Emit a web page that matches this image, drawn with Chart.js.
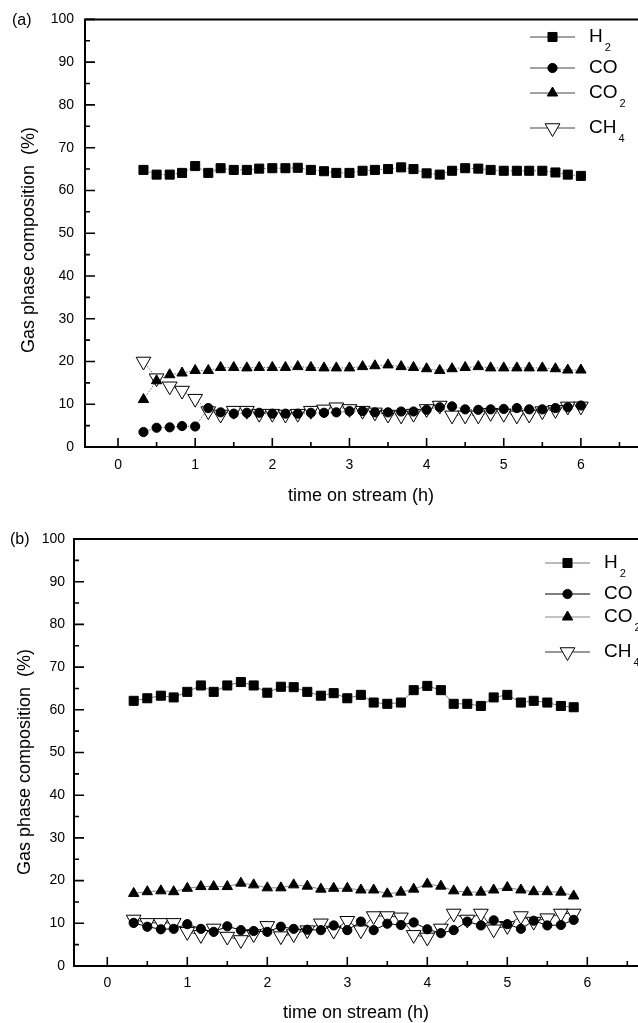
<!DOCTYPE html>
<html>
<head>
<meta charset="utf-8">
<script src="https://cdn.jsdelivr.net/npm/chart.js@4.4.1/dist/chart.umd.min.js"></script>
<style>
html, body { margin: 0; padding: 0; background: #fff; overflow: hidden; width: 638px; height: 1023px; }
canvas { position: absolute; left: 0; }
#chartA { top: 0; }
#chartB { top: 510px; }
</style>
</head>
<body>
<canvas id="chartA" width="720" height="510"></canvas>
<canvas id="chartB" width="720" height="513"></canvas>
<script>
// ---- data ----
const xTicks = [0, 1, 2, 3, 4, 5, 6, 7];
const yTicks = [0, 10, 20, 30, 40, 50, 60, 70, 80, 90, 100];

// panel (a)
const timeA = [0.33, 0.5, 0.67, 0.83, 1.0, 1.17, 1.33, 1.5, 1.67, 1.83, 2.0, 2.17, 2.33, 2.5, 2.67, 2.83, 3.0,
               3.17, 3.33, 3.5, 3.67, 3.83, 4.0, 4.17, 4.33, 4.5, 4.67, 4.83, 5.0, 5.17, 5.33, 5.5, 5.67, 5.83, 6.0];
const h2A  = [64.8, 63.7, 63.7, 64.1, 65.7, 64.1, 65.2, 64.8, 64.8, 65.1, 65.2, 65.2, 65.3, 64.8, 64.5, 64.1, 64.1,
              64.6, 64.8, 65.0, 65.4, 65.0, 64.0, 63.7, 64.6, 65.2, 65.1, 64.8, 64.6, 64.6, 64.6, 64.6, 64.2, 63.7, 63.4];
const coA  = [3.5, 4.5, 4.6, 4.9, 4.8, 9.1, 8.1, 7.8, 8.0, 8.0, 7.8, 7.8, 7.8, 8.0, 8.0, 8.1, 8.4,
              8.4, 8.1, 8.1, 8.3, 8.3, 8.7, 9.3, 9.5, 8.8, 8.7, 8.8, 8.9, 9.1, 8.8, 8.8, 9.1, 9.3, 9.7];
const co2A = [11.1, 15.5, 16.9, 17.3, 17.9, 17.9, 18.6, 18.6, 18.5, 18.6, 18.6, 18.6, 18.8, 18.6, 18.5, 18.5, 18.5,
              18.8, 19.0, 19.2, 18.8, 18.6, 18.3, 17.9, 18.3, 18.6, 18.8, 18.5, 18.5, 18.5, 18.5, 18.5, 18.3, 18.0, 18.0];
const ch4A = [20.0, 16.1, 14.2, 13.2, 11.3, 8.4, 7.6, 8.5, 8.5, 7.8, 7.8, 7.6, 7.8, 8.5, 8.8, 9.3, 8.9,
              8.5, 8.1, 7.6, 7.4, 7.8, 8.9, 9.7, 7.4, 7.4, 7.4, 8.0, 7.8, 7.4, 7.6, 8.4, 8.7, 9.5, 9.5];

// panel (b)
const timeB = [0.33, 0.5, 0.67, 0.83, 1.0, 1.17, 1.33, 1.5, 1.67, 1.83, 2.0, 2.17, 2.33, 2.5, 2.67, 2.83, 3.0,
               3.17, 3.33, 3.5, 3.67, 3.83, 4.0, 4.17, 4.33, 4.5, 4.67, 4.83, 5.0, 5.17, 5.33, 5.5, 5.67, 5.83];
const h2B  = [62.1, 62.7, 63.3, 62.9, 64.2, 65.7, 64.2, 65.7, 66.5, 65.7, 64.0, 65.4, 65.3, 64.2, 63.3, 63.9, 62.7,
              63.5, 61.7, 61.4, 61.7, 64.6, 65.6, 64.6, 61.4, 61.4, 60.9, 62.9, 63.5, 61.7, 62.1, 61.7, 60.9, 60.6];
const coB  = [10.1, 9.2, 8.6, 8.7, 9.8, 8.7, 8.0, 9.3, 8.4, 8.2, 8.0, 9.2, 8.7, 8.5, 8.4, 9.5, 8.4,
              10.4, 8.4, 9.9, 9.6, 10.2, 8.6, 7.7, 8.4, 10.4, 9.5, 10.7, 9.8, 8.7, 10.6, 9.5, 9.6, 10.8];
const co2B = [17.0, 17.4, 17.6, 17.4, 18.2, 18.6, 18.6, 18.6, 19.4, 19.0, 18.3, 18.3, 19.0, 18.7, 18.0, 18.2, 18.2,
              17.8, 17.8, 16.9, 17.3, 18.0, 19.2, 18.7, 17.6, 17.3, 17.3, 17.8, 18.4, 17.8, 17.4, 17.4, 17.3, 16.4];
const ch4B = [10.9, 10.1, 10.1, 10.1, 8.0, 7.3, 8.8, 6.9, 6.1, 7.5, 9.4, 7.0, 7.5, 8.4, 10.0, 8.3, 10.6,
              8.4, 11.7, 11.7, 11.4, 7.3, 6.7, 8.8, 12.3, 10.9, 12.3, 8.6, 9.4, 11.7, 10.4, 11.2, 12.3, 12.3];

const FONT = "'Liberation Sans', Arial, Helvetica, sans-serif";

// marker look for each gas (same in both panels)
const markers = [
  { name: 'H',  sub: '2', pointStyle: 'rect',     radius: 6.4, rotation: 0,   fill: '#000' },
  { name: 'CO', sub: '',  pointStyle: 'circle',   radius: 4.6, rotation: 0,   fill: '#000' },
  { name: 'CO', sub: '2', pointStyle: 'triangle', radius: 6,   rotation: 0,   fill: '#000' },
  { name: 'CH', sub: '4', pointStyle: 'triangle', radius: 8.5, rotation: 180, fill: '#fff' }
];

// draws axes box, inward ticks, titles, panel tag and the legend
const framePlugin = {
  id: 'frame',
  afterDraw(chart, args, o) {
    const { ctx, chartArea: a, scales: { x, y } } = chart;
    ctx.save();
    ctx.strokeStyle = '#000';
    ctx.lineWidth = 2;
    ctx.beginPath();
    ctx.moveTo(a.right, a.top);
    ctx.lineTo(a.left, a.top);
    ctx.lineTo(a.left, a.bottom);
    ctx.lineTo(a.right, a.bottom);
    ctx.stroke();

    ctx.lineWidth = 1.6;
    ctx.beginPath();
    yTicks.forEach((v, i) => {
      const py = y.getPixelForValue(v);
      ctx.moveTo(a.left, py); ctx.lineTo(a.left + 10, py);
      if (i < yTicks.length - 1) {
        const pm = y.getPixelForValue((v + yTicks[i + 1]) / 2);
        ctx.moveTo(a.left, pm); ctx.lineTo(a.left + 5, pm);
      }
    });
    xTicks.forEach((v, i) => {
      const px = x.getPixelForValue(v);
      ctx.moveTo(px, a.bottom); ctx.lineTo(px, a.bottom - 9);
      if (i < xTicks.length - 1) {
        const pm = x.getPixelForValue((v + xTicks[i + 1]) / 2);
        ctx.moveTo(pm, a.bottom); ctx.lineTo(pm, a.bottom - 5);
      }
    });
    ctx.stroke();

    ctx.fillStyle = '#000';
    ctx.textBaseline = 'middle';

    // panel tag
    ctx.font = '16px ' + FONT;
    ctx.textAlign = 'left';
    ctx.fillText(o.tag, o.tagX, o.tagY);

    // axis titles
    ctx.font = '18px ' + FONT;
    ctx.textAlign = 'center';
    ctx.fillText('time on stream (h)', o.xTitleX, o.xTitleY);
    ctx.save();
    ctx.translate(o.yTitleX, o.yTitleY);
    ctx.rotate(-Math.PI / 2);
    ctx.fillText('Gas phase composition  (%)', 0, 0);
    ctx.restore();

    // legend: line - marker - line, then name with subscript
    ctx.textAlign = 'left';
    markers.forEach((m, i) => {
      const ly = o.legendY[i];
      ctx.strokeStyle = o.lineColors[i];
      ctx.lineWidth = 1;
      ctx.beginPath();
      ctx.moveTo(o.legendX, ly); ctx.lineTo(o.legendX + 45, ly);
      ctx.stroke();
      ctx.fillStyle = m.fill;
      ctx.strokeStyle = '#000';
      Chart.helpers.drawPoint(ctx, { pointStyle: m.pointStyle, radius: m.radius, rotation: m.rotation, borderWidth: 1 },
        o.legendX + 22.5, ly);
      ctx.fillStyle = '#000';
      ctx.font = '19px ' + FONT;
      const tx = o.legendX + 59;
      ctx.fillText(m.name, tx, ly);
      if (m.sub) {
        const w = ctx.measureText(m.name).width;
        ctx.font = '11px ' + FONT;
        ctx.fillText(m.sub, tx + w + 2, ly + 11);
      }
    });
    ctx.restore();
  }
};

function makeChart(id, cfg) {
  const series = [cfg.h2, cfg.co, cfg.co2, cfg.ch4];
  return new Chart(document.getElementById(id), {
    type: 'line',
    data: {
      datasets: series.map((vals, i) => ({
        label: markers[i].name + markers[i].sub,
        data: cfg.time.map((t, k) => ({ x: t, y: vals[k] })),
        borderColor: cfg.lineColors[i],
        borderWidth: cfg.lineWidth,
        borderDash: cfg.dash,
        tension: 0,
        fill: false,
        pointStyle: markers[i].pointStyle,
        pointRadius: markers[i].radius,
        pointRotation: markers[i].rotation,
        pointBackgroundColor: markers[i].fill,
        pointBorderColor: '#000',
        pointBorderWidth: 1,
        clip: false
      }))
    },
    options: {
      responsive: false,
      animation: false,
      events: [],
      layout: { padding: { top: cfg.top, left: 0, right: 0, bottom: 0 } },
      plugins: { legend: { display: false }, tooltip: { enabled: false }, frame: cfg },
      scales: {
        x: {
          type: 'linear', min: cfg.xmin, max: cfg.xmax,
          grid: { display: false, drawTicks: false }, border: { display: false },
          afterBuildTicks: s => { s.ticks = xTicks.map(v => ({ value: v })); },
          afterFit: s => { s.height = cfg.xh; },
          ticks: { font: { family: FONT, size: 14 }, color: '#000', padding: cfg.xpad, maxRotation: 0, autoSkip: false }
        },
        y: {
          min: 0, max: 100,
          grid: { display: false, drawTicks: false }, border: { display: false },
          afterBuildTicks: s => { s.ticks = yTicks.map(v => ({ value: v })); },
          afterFit: s => { s.width = cfg.left; },
          ticks: { font: { family: FONT, size: 14 }, color: '#000', padding: cfg.ypad }
        }
      }
    },
    plugins: [framePlugin]
  });
}

makeChart('chartA', {
  time: timeA, h2: h2A, co: coA, co2: co2A, ch4: ch4A,
  top: 18, left: 85, xh: 63, xmin: -0.428, xmax: 7.68, xpad: 10, ypad: 11,
  lineColors: ['#444', '#444', '#444', '#444'], lineWidth: 0.8, dash: [1.5, 1.5],
  tag: '(a)', tagX: 12, tagY: 21,
  xTitleX: 361, xTitleY: 496, yTitleX: 29, yTitleY: 240,
  legendX: 530, legendY: [37, 68, 93, 128]
});

makeChart('chartB', {
  time: timeB, h2: h2B, co: coB, co2: co2B, ch4: ch4B,
  top: 29, left: 74, xh: 57, xmin: -0.416, xmax: 7.54, xpad: 9, ypad: 9,
  lineColors: ['#777', '#000', '#888', '#333'], lineWidth: 1, dash: [],
  tag: '(b)', tagX: 10, tagY: 30,
  xTitleX: 356, xTitleY: 503, yTitleX: 25, yTitleY: 252,
  legendX: 545, legendY: [53, 84, 107, 142]
});
</script>
</body>
</html>
